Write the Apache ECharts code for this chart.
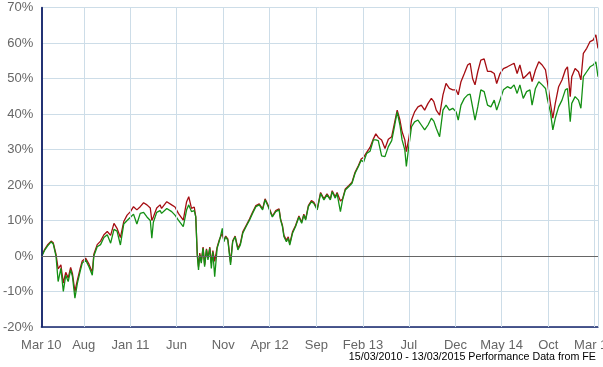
<!DOCTYPE html>
<html><head><meta charset="utf-8">
<script src="https://cdn.jsdelivr.net/npm/echarts@6/dist/echarts.min.js"></script>
<style>html,body{margin:0;padding:0;background:#fff}#c{width:603px;height:367px}</style>
</head><body><div id="c"></div>
<script>
// Days since 15/03/2010
const days = [2,10,20,32,39,48,55,64,72,80,88,96,102,110,118,127,134,145,156,167,172,183,194,205,216,227,238,248,259,270,281,292,302,313,324,335,346,357,362,367,378,389,394,411,427,438,449,465,476,483,492,501,506,511,515,519,524,530,535,541,546,552,557,562,568,576,584,593,598,604,611,620,627,635,644,652,660,671,682,692,703,714,725,733,741,752,757,768,779,784,790,795,803,809,814,823,833,844,853,860,866,875,885,893,904,915,926,936,947,953,963,969,980,987,996,1007,1018,1028,1039,1048,1056,1066,1077,1088,1096,1104,1115,1126,1137,1148,1158,1166,1175,1182,1191,1196,1204,1213,1223,1234,1245,1256,1267,1278,1286,1294,1305,1316,1326,1337,1348,1359,1366,1375,1386,1397,1405,1413,1421,1430,1440,1451,1462,1473,1484,1492,1503,1514,1527,1538,1549,1559,1568,1579,1590,1601,1608,1619,1630,1641,1652,1659,1668,1676,1684,1695,1706,1717,1724,1733,1738,1749,1760,1768,1776,1787,1798,1808,1817,1824];
// Red series (%)
const fundReturn = [0.3,1.7,3.1,4.2,3.7,0.5,-3.6,-2.5,-7.6,-4.6,-6.2,-3.2,-5,-10,-6.8,-3.6,-1.4,-0.6,-2.3,-4.6,0.5,3.2,4.2,6,6.9,5.8,9.2,7.8,5.2,9.7,11.5,12.5,13.9,13,13.9,15,14.4,13.5,10,11,13.5,14.4,13.4,15.3,14.4,13.8,12,10.1,15.3,16.7,13.4,13.8,11,0.5,-3,0.8,-1.5,2.5,-2.5,2,-0.5,2.5,-2,1.5,-1.5,2.5,4.8,6.4,4.5,5.6,4.8,-1.8,4.3,5.6,2.2,3.5,6.8,8.6,10.4,12.3,14.2,14.7,13.3,16.1,14.7,12.3,11.2,12.8,13.3,10.4,8.6,5.8,4.4,5.4,3.5,6.8,8.6,11.3,9.5,11.8,10.4,14.2,15.6,15.1,13.3,17.9,16.1,17.5,16.1,18.4,16.6,17.9,15.5,16.1,18.9,19.8,20.8,23.6,25.5,27.3,27.8,29.2,30.6,33,34.4,33.4,32.7,30.3,32.9,33.6,37.8,41.1,38.3,35,32.7,29.4,33.1,38.3,40.6,42,42.5,41.1,43,44.4,43.5,41.1,39.7,45.4,48.6,47.2,46.8,46.8,45.4,49.1,51.4,53.8,54.3,50,48.2,51.9,55.2,55.5,52,52,51.4,48.6,51.4,52.8,53.3,53.8,54.3,51.4,53.8,50,50.9,51.9,49.1,52.4,54.7,53.8,52.4,48.6,43,38.8,43,47.7,49.6,52.4,53.3,44.9,50.5,52.8,51.9,49.6,57.1,58.5,60.4,60.8,62.3,58.5];
// Green series (%)
const benchmarkReturn = [0,1.5,2.8,4,3.4,0,-7.2,-3.5,-10,-5.4,-7.2,-3.9,-5.8,-11.9,-7.7,-4.4,-2,-1.1,-3,-5.4,0,2.6,3.2,5.2,6,3.6,7.5,7,3.1,9,10,10.9,11.8,9,12,12.3,11,10,5,9.5,12.3,12.8,12,13.4,12.5,11.5,10.1,8.3,13,14.4,12.5,12.8,11,0,-3.9,0.3,-2,2.2,-3,1.7,-1.1,2.2,-3.5,1.2,-5.8,2.2,4.5,7.8,4,5.4,4.5,-2.5,4,5.4,1.7,3.1,6.4,8.3,10.1,12,13.9,14.4,13,15.8,14.4,12,11,12.5,13,10.1,8.3,5.4,4,5,3.1,6.4,8.3,11,9.2,11.5,10.1,13.9,15.3,14.8,13,17.6,15.8,17.2,15.8,18.1,16.3,17.6,12.5,15.8,18.6,19.5,20.5,23.3,25.2,27,26.5,28.9,29.5,32.7,32.7,32.5,28.2,28,30.8,32.5,36.9,40.6,36.9,32.7,29.9,25.2,30.8,36.4,37.8,38.3,36.9,35.5,36.9,38.8,38,36,33.6,41.1,42.5,41.1,41.6,40.6,38.3,42.5,44.4,45.4,45.6,42,38.3,42,46.8,46.3,42.5,42,43.9,41.1,43.9,46.8,47.7,47.2,48.2,45.8,48.2,44.4,46.3,46.8,42.5,47.2,49.1,48.2,47.2,43.9,40.6,35.5,38.8,42,43.9,46.8,47.2,37.8,43,44.9,43.9,41.6,50.5,51.9,53.3,53.8,54.7,50.5];
// Vertical gridlines (1st of month, days since 15/03/2010) and labels
const gridDays = [0,139,292,443,596,748,901,1054,1204,1357,1508,1661,1812];
const gridLabels = ['Mar 10','Aug','Jan 11','Jun','Nov','Apr 12','Sep','Feb 13','Jul','Dec','May 14','Oct','Mar 15'];
const endDay = 1824;
const yTicks = {min:-20, max:70, step:10};
const footer = '15/03/2010 - 13/03/2015 Performance Data from FE';

const chart = echarts.init(document.getElementById('c'), null, {renderer:'canvas'});
const font = 'Liberation Sans, Arial, sans-serif';
const toPairs = vals => vals.map((v,i)=>[days[i], v]);
const vLines = gridDays.map((d,i)=>({
  xAxis: d,
  label: {formatter: gridLabels[i]},
  lineStyle: i===0 ? {color:'#14246b', width:1.5} : undefined
}));
vLines.push({xAxis: endDay, label:{show:false}});
chart.setOption({
  animation:false,
  backgroundColor:'#fff',
  title:{text:footer, right:2, bottom:-1, textStyle:{fontSize:10.7, fontWeight:'normal', color:'#000', fontFamily:font}},
  grid:{left:37, right:5, top:7.5, bottom:40},
  xAxis:{type:'value', min:0, max:endDay, axisLine:{show:true, onZero:false, lineStyle:{color:'#14246b', width:1.5}},
    axisTick:{show:false}, axisLabel:{show:false}, splitLine:{show:false}},
  yAxis:{type:'value', min:yTicks.min, max:yTicks.max, interval:yTicks.step,
    axisLine:{show:true, lineStyle:{color:'#14246b', width:1.5}}, axisTick:{show:false},
    axisLabel:{formatter:'{value}%', color:'#666', fontSize:13, fontFamily:font, margin:8},
    splitLine:{lineStyle:{color:'#cddde8', width:1}}},
  series:[
    {type:'line', data:[], z:1, silent:true,
      markLine:{silent:true, symbol:'none', animation:false,
        lineStyle:{color:'#cddde8', width:1, type:'solid'},
        label:{show:true, position:'start', distance:12, color:'#666', fontSize:13, fontFamily:font},
        data:vLines}},
    {type:'line', data:[], z:1, silent:true,
      markLine:{silent:true, symbol:'none', animation:false,
        lineStyle:{color:'#666', width:1, type:'solid'}, label:{show:false},
        data:[{yAxis:0}]}},
    {name:'Fund', type:'line', data:toPairs(fundReturn), showSymbol:false, z:3,
      lineStyle:{color:'#a50d12', width:1.3}},
    {name:'Sector', type:'line', data:toPairs(benchmarkReturn), showSymbol:false, z:4,
      lineStyle:{color:'#149014', width:1.3}}
  ]
});
</script></body></html>
